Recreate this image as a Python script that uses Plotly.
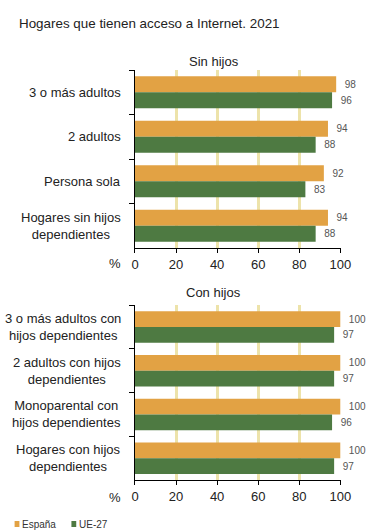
import plotly.graph_objects as go

# Household internet access, 2021 (%)
sin_hijos_cats = ["3 o más adultos", "2 adultos", "Persona sola",
                  "Hogares sin hijos<br>dependientes"]
sin_hijos_espana = [98, 94, 92, 94]
sin_hijos_ue27 = [96, 88, 83, 88]

con_hijos_cats = ["3 o más adultos con<br>hijos dependientes",
                  "2 adultos con hijos<br>dependientes",
                  "Monoparental con<br>hijos dependientes",
                  "Hogares con hijos<br>dependientes"]
con_hijos_espana = [100, 100, 100, 100]
con_hijos_ue27 = [97, 97, 96, 97]

x_ticks = [0, 20, 40, 60, 80, 100]
series_names = ["España", "UE-27"]

ORANGE = "#E2A244"
GREEN = "#4E7A42"
GRID = "#EDE3AA"
FONT = "Liberation Sans, Arial, sans-serif"
W, H = 380, 530

fig = go.Figure()

panels = [
    ("x", "y", sin_hijos_cats, sin_hijos_espana, sin_hijos_ue27),
    ("x2", "y2", con_hijos_cats, con_hijos_espana, con_hijos_ue27),
]

for xa, ya, cats, esp, ue in panels:
    for name, vals, color in ((series_names[0], esp, ORANGE),
                              (series_names[1], ue, GREEN)):
        fig.add_trace(go.Bar(
            y=cats, x=vals, orientation="h", name=name,
            marker=dict(color=color, line=dict(width=0)),
            text=vals, texttemplate="\u00a0\u00a0%{x}", textposition="outside",
            textfont=dict(size=10, color="#555555", family=FONT),
            cliponaxis=False, xaxis=xa, yaxis=ya, showlegend=False,
        ))

x_dom = [136 / W, 350 / W]
xaxis_style = dict(
    range=[0, 100.4], tickvals=x_ticks, ticks="outside", ticklen=4,
    tickcolor="#000", showline=True, linecolor="#000", linewidth=1,
    showgrid=True, gridcolor=GRID, gridwidth=3, zeroline=False,
    tickfont=dict(size=13, color="#222", family=FONT), domain=x_dom,
)
yaxis_style = dict(
    type="category", autorange="reversed", showticklabels=False,
    ticks="outside", tickson="boundaries", ticklen=5, tickcolor="#000",
    showline=True, linecolor="#000", linewidth=1, showgrid=False,
)

fig.update_layout(
    width=W, height=H,
    margin=dict(l=0, r=0, t=0, b=0),
    paper_bgcolor="white", plot_bgcolor="white",
    barmode="group", bargap=0.28, bargroupgap=0.0,
    font=dict(family=FONT, color="#222"),
    xaxis=dict(xaxis_style, anchor="y"),
    yaxis=dict(yaxis_style, domain=[1 - 248 / H, 1 - 70 / H], anchor="x"),
    xaxis2=dict(xaxis_style, anchor="y2"),
    yaxis2=dict(yaxis_style, domain=[1 - 480 / H, 1 - 305 / H], anchor="x2"),
    showlegend=False,
)


def px_x(v):
    return v / W


def px_y(v):
    return 1 - v / H


annotations = [
    dict(text="Hogares que tienen acceso a Internet. 2021", x=px_x(13), y=px_y(24),
         xanchor="left", font=dict(size=13.4, color="#222", family=FONT)),
    dict(text="Sin hijos", x=px_x(218), y=px_y(62), xanchor="center",
         font=dict(size=13, color="#222", family=FONT)),
    dict(text="Con hijos", x=px_x(218), y=px_y(292), xanchor="center",
         font=dict(size=13, color="#222", family=FONT)),
    dict(text="%", x=px_x(124), y=px_y(263), xanchor="right",
         font=dict(size=13, color="#222", family=FONT)),
    dict(text="%", x=px_x(124), y=px_y(497), xanchor="right",
         font=dict(size=13, color="#222", family=FONT)),
]
for a in annotations:
    a.update(xref="paper", yref="paper", yanchor="middle", showarrow=False)

# Category labels, centred line by line, right-aligned next to each y axis
for ya, cats in (("y", sin_hijos_cats), ("y2", con_hijos_cats)):
    for c in cats:
        annotations.append(dict(
            text=c, x=px_x(124), y=c, xref="paper", yref=ya,
            xanchor="right", yanchor="middle", align="center", showarrow=False,
            font=dict(size=13, color="#222", family=FONT)))

# Legend: small colour squares followed by series names
shapes = []
legend_items = [(series_names[0], ORANGE, 11), (series_names[1], GREEN, 70)]
for name, color, x0 in legend_items:
    shapes.append(dict(type="rect", xref="paper", yref="paper",
                       x0=px_x(x0), x1=px_x(x0 + 5), y0=px_y(527), y1=px_y(521),
                       fillcolor=color, line=dict(width=0)))
    annotations.append(dict(text=name, x=px_x(x0 + 5.5), y=px_y(524),
                            xref="paper", yref="paper", xanchor="left",
                            yanchor="middle", showarrow=False,
                            font=dict(size=10, color="#333", family=FONT)))

fig.update_layout(annotations=annotations, shapes=shapes)

fig.write_html("out.html")
